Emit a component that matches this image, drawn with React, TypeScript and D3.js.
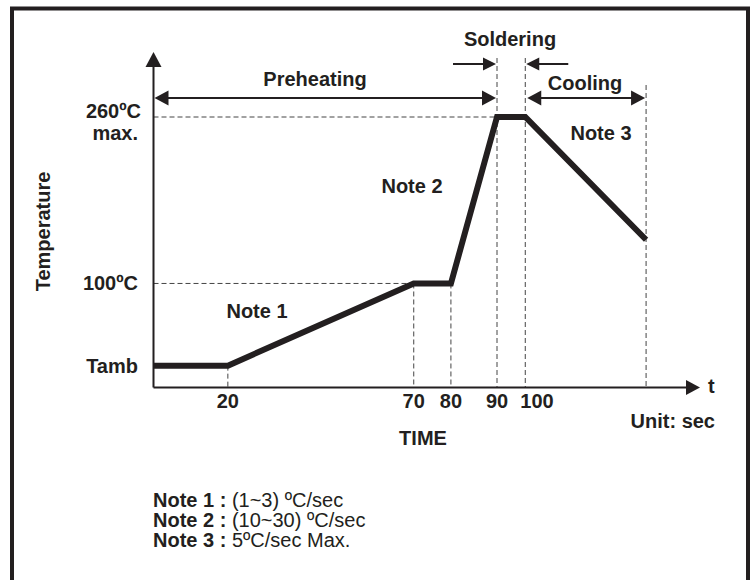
import React from "react";
import * as d3 from "d3";

// ---- data ----
const profileTime = [0, 20, 70, 80, 92.4, 100, 132.5];
const profileTemp = [21, 21, 100, 100, 260, 260, 142];
const tickTimes = [20, 70, 80, 92.4, 100];
const tickLabels = ["20", "70", "80", "90", "100"];
const levelTemps = [21, 100, 260];
const levelLabels = [["Tamb"], ["100ºC"], ["260ºC", "max."]];
const noteNames = ["Note 1 :", "Note 2 :", "Note 3 :"];
const noteTexts = [" (1~3) ºC/sec", " (10~30) ºC/sec", " 5ºC/sec Max."];
const phaseNames = ["Preheating", "Soldering", "Cooling"];

const W = 752;
const H = 580;
const INK = "#231f20";
const FONT = "'Liberation Sans', Arial, Helvetica, sans-serif";

const x = d3.scaleLinear().domain([0, 147]).range([153.5, 700]);
const y = d3.scaleLinear().domain([0, 260]).range([387.5, 117]);

function head(tx: number, ty: number, dir: "l" | "r" | "u", len = 14, hw = 7.5) {
  let pts: [number, number][];
  if (dir === "r") pts = [[tx, ty], [tx - len, ty - hw], [tx - len, ty + hw]];
  else if (dir === "l") pts = [[tx, ty], [tx + len, ty - hw], [tx + len, ty + hw]];
  else pts = [[tx, ty], [tx - hw, ty + len], [tx + hw, ty + len]];
  return <polygon points={pts.map((p) => p.join(",")).join(" ")} fill={INK} />;
}

export default function App() {
  const line = d3
    .line<number>()
    .x((_, i) => x(profileTime[i]))
    .y((_, i) => y(profileTemp[i]));
  const path = line(profileTime) || "";

  const tPeak = profileTime[4];
  const tSoldEnd = profileTime[5];
  const tCoolEnd = profileTime[6];
  const x0 = x(0);
  const axisY = y(0);
  const dash = "5,3";

  const preY = 98;
  const solY = 64;

  return (
    <svg
      width={W}
      height={H}
      style={{ position: "absolute", left: 0, top: 0, display: "block", background: "#fff" }}
      fontFamily={FONT}
    >
      <rect x={12} y={8.5} width={736} height={600} fill="#fff" stroke={INK} strokeWidth={4} />

      {/* dashed guides */}
      <g stroke="#444" strokeWidth={1} strokeDasharray={dash} fill="none">
        <line x1={x0} x2={x(tPeak)} y1={y(260)} y2={y(260)} />
        <line x1={x0} x2={x(70)} y1={y(100)} y2={y(100)} />
        <line x1={x(20)} x2={x(20)} y1={y(profileTemp[1])} y2={axisY} />
        <line x1={x(70)} x2={x(70)} y1={y(100)} y2={axisY} />
        <line x1={x(80)} x2={x(80)} y1={y(100)} y2={axisY} />
        <line x1={x(tPeak)} x2={x(tPeak)} y1={58} y2={axisY} />
        <line x1={x(tSoldEnd)} x2={x(tSoldEnd)} y1={58} y2={axisY} />
        <line x1={x(tCoolEnd)} x2={x(tCoolEnd)} y1={85} y2={axisY} />
      </g>

      {/* axes */}
      <line x1={x0} x2={x0} y1={axisY} y2={60} stroke={INK} strokeWidth={2} />
      {head(x0, 52, "u", 15, 8)}
      <line x1={x0} x2={690} y1={axisY} y2={axisY} stroke={INK} strokeWidth={2} />
      {head(700, axisY, "r", 14, 7.5)}

      {/* profile */}
      <path d={path} fill="none" stroke={INK} strokeWidth={6} strokeLinejoin="miter" />

      {/* phase arrows */}
      <line x1={x0 + 10} x2={x(tPeak) - 10} y1={preY} y2={preY} stroke={INK} strokeWidth={2} />
      {head(x0 + 1, preY, "l")}
      {head(x(tPeak) - 1, preY, "r")}

      <line x1={x(tPeak) - 44} x2={x(tPeak) - 10} y1={solY} y2={solY} stroke={INK} strokeWidth={2} />
      {head(x(tPeak) - 1, solY, "r", 13, 6.5)}
      <line x1={x(tSoldEnd) + 10} x2={x(tSoldEnd) + 43} y1={solY} y2={solY} stroke={INK} strokeWidth={2} />
      {head(x(tSoldEnd) + 1, solY, "l", 13, 6.5)}

      <line x1={x(tSoldEnd) + 10} x2={x(tCoolEnd) - 10} y1={preY} y2={preY} stroke={INK} strokeWidth={2} />
      {head(x(tSoldEnd) + 2, preY, "l")}
      {head(x(tCoolEnd) - 1, preY, "r")}

      <g fill={INK} fontWeight="bold" fontSize={20}>
        <text x={315} y={86} textAnchor="middle">{phaseNames[0]}</text>
        <text x={510} y={46} textAnchor="middle">{phaseNames[1]}</text>
        <text x={585} y={90} textAnchor="middle">{phaseNames[2]}</text>

        <text x={257} y={318} textAnchor="middle">Note 1</text>
        <text x={412} y={193} textAnchor="middle">Note 2</text>
        <text x={601} y={140} textAnchor="middle">Note 3</text>

        {tickTimes.map((t, i) => {
          const last = i === tickTimes.length - 1;
          return (
            <text key={i} x={last ? x(t) - 5 : x(t)} y={408} textAnchor={last ? "start" : "middle"}>
              {tickLabels[i]}
            </text>
          );
        })}

        {levelTemps.map((v, i) =>
          levelLabels[i].length === 1 ? (
            <text key={i} x={138} y={y(v) + 7} textAnchor="end">{levelLabels[i][0]}</text>
          ) : (
            <text key={i} x={141} y={y(v) + 1} textAnchor="end">
              {levelLabels[i].map((s, j) => (
                <tspan key={j} x={j === 0 ? 141 : 138} dy={j === 0 ? 0 : 22}>{s}</tspan>
              ))}
            </text>
          )
        )}

        <text transform="translate(50,231.5) rotate(-90)" textAnchor="middle">Temperature</text>
        <text x={423} y={445} textAnchor="middle">TIME</text>
        <text x={715} y={428} textAnchor="end">Unit: sec</text>
        <text x={708} y={393}>t</text>
      </g>

      <g fill={INK} fontSize={20}>
        {noteNames.map((n, i) => (
          <text key={i} x={153} y={506.5 + i * 20}>
            <tspan fontWeight="bold">{n}</tspan>
            <tspan>{noteTexts[i]}</tspan>
          </text>
        ))}
      </g>
    </svg>
  );
}
